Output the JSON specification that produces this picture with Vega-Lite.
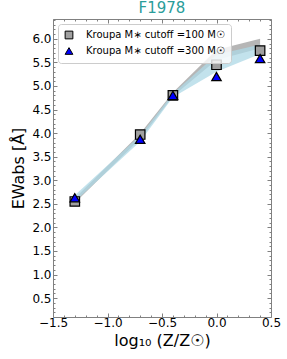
{
  "$schema": "https://vega.github.io/schema/vega-lite/v6.json",
  "width": 218,
  "height": 298,
  "autosize": "none",
  "padding": {"left": 53, "top": 19, "right": 16, "bottom": 42},
  "background": "white",
  "config": {
    "font": "DejaVu Sans",
    "view": {"stroke": "#808080", "strokeWidth": 1},
    "axis": {"grid": false, "domain": false, "labelFlush": false, "tickColor": "#808080", "labelColor": "#000000", "labelFont": "DejaVu Sans", "titleFont": "DejaVu Sans", "titleFontWeight": "normal", "titleColor": "#000000"}
  },
  "title": {"text": "F1978", "color": "#2a9d9a", "fontSize": 15, "font": "DejaVu Sans", "fontWeight": "normal", "offset": 3},
  "datasets": {
    "pts": [
      {"x": -1.3, "series": "Kroupa M∗ cutoff =100 M☉", "ew": 2.55, "lo": 2.52, "hi": 2.62},
      {"x": -0.7, "series": "Kroupa M∗ cutoff =100 M☉", "ew": 3.97, "lo": 3.88, "hi": 3.99},
      {"x": -0.4, "series": "Kroupa M∗ cutoff =100 M☉", "ew": 4.8, "lo": 4.78, "hi": 4.86},
      {"x": 0.0, "series": "Kroupa M∗ cutoff =100 M☉", "ew": 5.45, "lo": 5.55, "hi": 5.77},
      {"x": 0.4, "series": "Kroupa M∗ cutoff =100 M☉", "ew": 5.75, "lo": 5.8, "hi": 6.0},
      {"x": -1.3, "series": "Kroupa M∗ cutoff =300 M☉", "ew": 2.63, "lo": 2.55, "hi": 2.68},
      {"x": -0.7, "series": "Kroupa M∗ cutoff =300 M☉", "ew": 3.87, "lo": 3.82, "hi": 3.95},
      {"x": -0.4, "series": "Kroupa M∗ cutoff =300 M☉", "ew": 4.8, "lo": 4.76, "hi": 4.84},
      {"x": 0.0, "series": "Kroupa M∗ cutoff =300 M☉", "ew": 5.2, "lo": 5.3, "hi": 5.66},
      {"x": 0.4, "series": "Kroupa M∗ cutoff =300 M☉", "ew": 5.58, "lo": 5.68, "hi": 5.88}
    ]
  },
  "data": {"name": "pts"},
  "resolve": {"axis": {"x": "independent", "y": "independent"}},
  "layer": [
    {
      "transform": [{"filter": "indexof(datum.series, '100') >= 0"}],
      "mark": {"type": "area", "color": "#a9a9a9", "opacity": 0.85},
      "encoding": {
        "x": {"field": "x", "type": "quantitative", "scale": {"domain": [-1.5, 0.5], "nice": false, "zero": false},
          "axis": {"orient": "bottom", "values": [-1.5, -1.0, -0.5, 0.0, 0.5], "tickSize": -4, "labelPadding": 4, "labelFontSize": 12, "labelExpr": "replace(format(datum.value, '.1f'), '-', '−')", "title": "log₁₀ (Z/Z☉)", "titleFontSize": 16, "titlePadding": 4}},
        "y": {"field": "lo", "type": "quantitative", "scale": {"domain": [0.1, 6.42], "nice": false, "zero": false},
          "axis": {"orient": "left", "values": [0.5, 1.0, 1.5, 2.0, 2.5, 3.0, 3.5, 4.0, 4.5, 5.0, 5.5, 6.0], "format": ".1f", "tickSize": -4, "labelPadding": 6, "labelFontSize": 12, "title": "EWabs [Å]", "titleFontSize": 16, "titlePadding": 5}},
        "y2": {"field": "hi"}
      }
    },
    {
      "transform": [{"filter": "indexof(datum.series, '300') >= 0"}],
      "mark": {"type": "area", "color": "#add8e6", "opacity": 0.75},
      "encoding": {
        "x": {"field": "x", "type": "quantitative", "scale": {"domain": [-1.5, 0.5], "nice": false, "zero": false},
          "axis": {"orient": "top", "values": [-1.5, -1.0, -0.5, 0.0, 0.5], "tickSize": -4, "labels": false, "title": null}},
        "y": {"field": "lo", "type": "quantitative", "scale": {"domain": [0.1, 6.42], "nice": false, "zero": false},
          "axis": {"orient": "right", "values": [0.5, 1.0, 1.5, 2.0, 2.5, 3.0, 3.5, 4.0, 4.5, 5.0, 5.5, 6.0], "tickSize": -4, "labels": false, "title": null}},
        "y2": {"field": "hi"}
      }
    },
    {
      "mark": {"type": "point", "opacity": 0},
      "encoding": {
        "x": {"field": "x", "type": "quantitative", "scale": {"domain": [-1.5, 0.5], "nice": false, "zero": false},
          "axis": {"orient": "bottom", "values": [-1.4, -1.3, -1.2, -1.1, -0.9, -0.8, -0.7, -0.6, -0.4, -0.3, -0.2, -0.1, 0.1, 0.2, 0.3, 0.4], "tickSize": -2, "labels": false, "title": null}},
        "y": {"field": "ew", "type": "quantitative", "scale": {"domain": [0.1, 6.42], "nice": false, "zero": false},
          "axis": {"orient": "left", "values": [0.2, 0.3, 0.4, 0.6, 0.7, 0.8, 0.9, 1.1, 1.2, 1.3, 1.4, 1.6, 1.7, 1.8, 1.9, 2.1, 2.2, 2.3, 2.4, 2.6, 2.7, 2.8, 2.9, 3.1, 3.2, 3.3, 3.4, 3.6, 3.7, 3.8, 3.9, 4.1, 4.2, 4.3, 4.4, 4.6, 4.7, 4.8, 4.9, 5.1, 5.2, 5.3, 5.4, 5.6, 5.7, 5.8, 5.9, 6.1, 6.2, 6.3, 6.4], "tickSize": -2, "labels": false, "title": null}}
      }
    },
    {
      "mark": {"type": "point", "opacity": 0},
      "encoding": {
        "x": {"field": "x", "type": "quantitative", "scale": {"domain": [-1.5, 0.5], "nice": false, "zero": false},
          "axis": {"orient": "top", "values": [-1.4, -1.3, -1.2, -1.1, -0.9, -0.8, -0.7, -0.6, -0.4, -0.3, -0.2, -0.1, 0.1, 0.2, 0.3, 0.4], "tickSize": -2, "labels": false, "title": null}},
        "y": {"field": "ew", "type": "quantitative", "scale": {"domain": [0.1, 6.42], "nice": false, "zero": false},
          "axis": {"orient": "right", "values": [0.2, 0.3, 0.4, 0.6, 0.7, 0.8, 0.9, 1.1, 1.2, 1.3, 1.4, 1.6, 1.7, 1.8, 1.9, 2.1, 2.2, 2.3, 2.4, 2.6, 2.7, 2.8, 2.9, 3.1, 3.2, 3.3, 3.4, 3.6, 3.7, 3.8, 3.9, 4.1, 4.2, 4.3, 4.4, 4.6, 4.7, 4.8, 4.9, 5.1, 5.2, 5.3, 5.4, 5.6, 5.7, 5.8, 5.9, 6.1, 6.2, 6.3, 6.4], "tickSize": -2, "labels": false, "title": null}}
      }
    },
    {
      "mark": {"type": "point", "filled": true, "stroke": "black", "strokeWidth": 1.2, "opacity": 1, "size": 90},
      "encoding": {
        "x": {"field": "x", "type": "quantitative", "scale": {"domain": [-1.5, 0.5], "nice": false, "zero": false}, "axis": null},
        "y": {"field": "ew", "type": "quantitative", "scale": {"domain": [0.1, 6.42], "nice": false, "zero": false}, "axis": null},
        "shape": {"field": "series", "type": "nominal", "scale": {"range": ["square", "triangle-up"]},
          "legend": {"title": null, "orient": "top-left", "offset": 5, "fillColor": "rgba(255,255,255,0.8)", "strokeColor": "#cccccc", "cornerRadius": 3, "padding": 6, "labelFontSize": 10, "labelFont": "DejaVu Sans", "symbolSize": 60, "symbolStrokeWidth": 1, "rowPadding": 4, "labelOffset": 12}},
        "fill": {"field": "series", "type": "nominal", "scale": {"range": ["#a0a0a0", "#0000ff"]}, "legend": null}
      }
    }
  ]
}
